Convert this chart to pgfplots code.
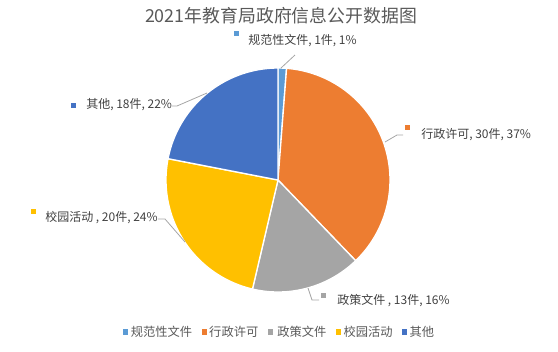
\documentclass[border=0pt]{standalone}
\usepackage{pgfplots}
\pgfplotsset{compat=1.18}
\usepackage{fontspec}
\setmainfont{Noto Sans CJK SC}
\definecolor{cA}{HTML}{5B9BD5}
\definecolor{cB}{HTML}{ED7D31}
\definecolor{cC}{HTML}{A5A5A5}
\definecolor{cD}{HTML}{FFC000}
\definecolor{cE}{HTML}{4472C4}
\definecolor{txt}{HTML}{404040}
\definecolor{ttl}{HTML}{595959}
\definecolor{lead}{HTML}{A6A6A6}
% data: 规范性文件, 行政许可, 政策文件, 校园活动, 其他
\def\vA{1}\def\vB{30}\def\vC{13}\def\vD{20}\def\vE{18}
\pgfmathsetmacro\tot{\vA+\vB+\vC+\vD+\vE}
\pgfmathsetmacro\unit{360/\tot}
\pgfmathsetmacro\aA{\unit*\vA}
\pgfmathsetmacro\aB{\unit*(\vA+\vB)}
\pgfmathsetmacro\aC{\unit*(\vA+\vB+\vC)}
\pgfmathsetmacro\aD{\unit*(\vA+\vB+\vC+\vD)}
\begin{document}
\begin{tikzpicture}
\begin{axis}[
  width=418.5pt, height=263.25pt, scale only axis,
  xmin=0, xmax=558, ymin=0, ymax=351, y dir=reverse,
  hide axis, clip=false,
  legend style={at={(axis cs:280,332)}, anchor=center, draw=none, fill=none,
    legend columns=-1, font=\fontsize{9.2pt}{11pt}\selectfont, text=ttl,
    /tikz/every even column/.append style={column sep=5pt}},
  legend image code/.code={\fill[#1,draw=none] (0pt,-1.9pt) rectangle (3.8pt,1.9pt);},
  pie/.style={draw=white, line width=1pt, line join=round},
]
\path (rel axis cs:0,0) rectangle (rel axis cs:1,1);
\addplot[fill=cA, pie, domain=0:\aA, samples=5] ({278+112*sin(x)},{180-112*cos(x)}) -- (axis cs:278,180) -- cycle;
\addlegendentry{规范性文件}
\addplot[fill=cB, pie, domain=\aA:\aB, samples=80] ({278+112*sin(x)},{180-112*cos(x)}) -- (axis cs:278,180) -- cycle;
\addlegendentry{行政许可}
\addplot[fill=cC, pie, domain=\aB:\aC, samples=40] ({278+112*sin(x)},{180-112*cos(x)}) -- (axis cs:278,180) -- cycle;
\addlegendentry{\,政策文件}
\addplot[fill=cD, pie, domain=\aC:\aD, samples=60] ({278+112*sin(x)},{180-112*cos(x)}) -- (axis cs:278,180) -- cycle;
\addlegendentry{校园活动}
\addplot[fill=cE, pie, domain=\aD:360, samples=60] ({278+112*sin(x)},{180-112*cos(x)}) -- (axis cs:278,180) -- cycle;
\addlegendentry{其他}
% title
\node[text=ttl, font=\fontsize{13.4pt}{16pt}\selectfont] at (axis cs:281,16) {2021年教育局政府信息公开数据图};
% leader lines
\draw[lead, line width=0.6pt] (axis cs:281,68) -- (axis cs:295,55);
\draw[lead, line width=0.6pt] (axis cs:385,142) -- (axis cs:397,135) -- (axis cs:403,135);
\draw[lead, line width=0.6pt] (axis cs:308,288) -- (axis cs:312,300) -- (axis cs:319,300);
\draw[lead, line width=0.6pt] (axis cs:185,242) -- (axis cs:165,219) -- (axis cs:158,219);
\draw[lead, line width=0.6pt] (axis cs:207,93) -- (axis cs:177,106) -- (axis cs:172,106);
% data labels
\fill[cA] (axis cs:234,31) rectangle (axis cs:239,36);
\node[anchor=west, inner sep=0pt, text=txt, font=\fontsize{9pt}{11pt}\selectfont] at (axis cs:248,41) {规范性文件, 1件, 1\%};
\fill[cB] (axis cs:405,125) rectangle (axis cs:410,130);
\node[anchor=west, inner sep=0pt, text=txt, font=\fontsize{9pt}{11pt}\selectfont] at (axis cs:421,135) {行政许可, 30件, 37\%};
\fill[cC] (axis cs:321,293) rectangle (axis cs:326,298);
\node[anchor=west, inner sep=0pt, text=txt, font=\fontsize{9pt}{11pt}\selectfont] at (axis cs:337,301) {政策文件 , 13件, 16\%};
\fill[cD] (axis cs:31,209) rectangle (axis cs:36,214);
\node[anchor=west, inner sep=0pt, text=txt, font=\fontsize{9pt}{11pt}\selectfont] at (axis cs:45,218) {校园活动 , 20件, 24\%};
\fill[cE] (axis cs:71,103) rectangle (axis cs:76,108);
\node[anchor=west, inner sep=0pt, text=txt, font=\fontsize{9pt}{11pt}\selectfont] at (axis cs:86,105) {其他, 18件, 22\%};
\end{axis}
\end{tikzpicture}
\end{document}
